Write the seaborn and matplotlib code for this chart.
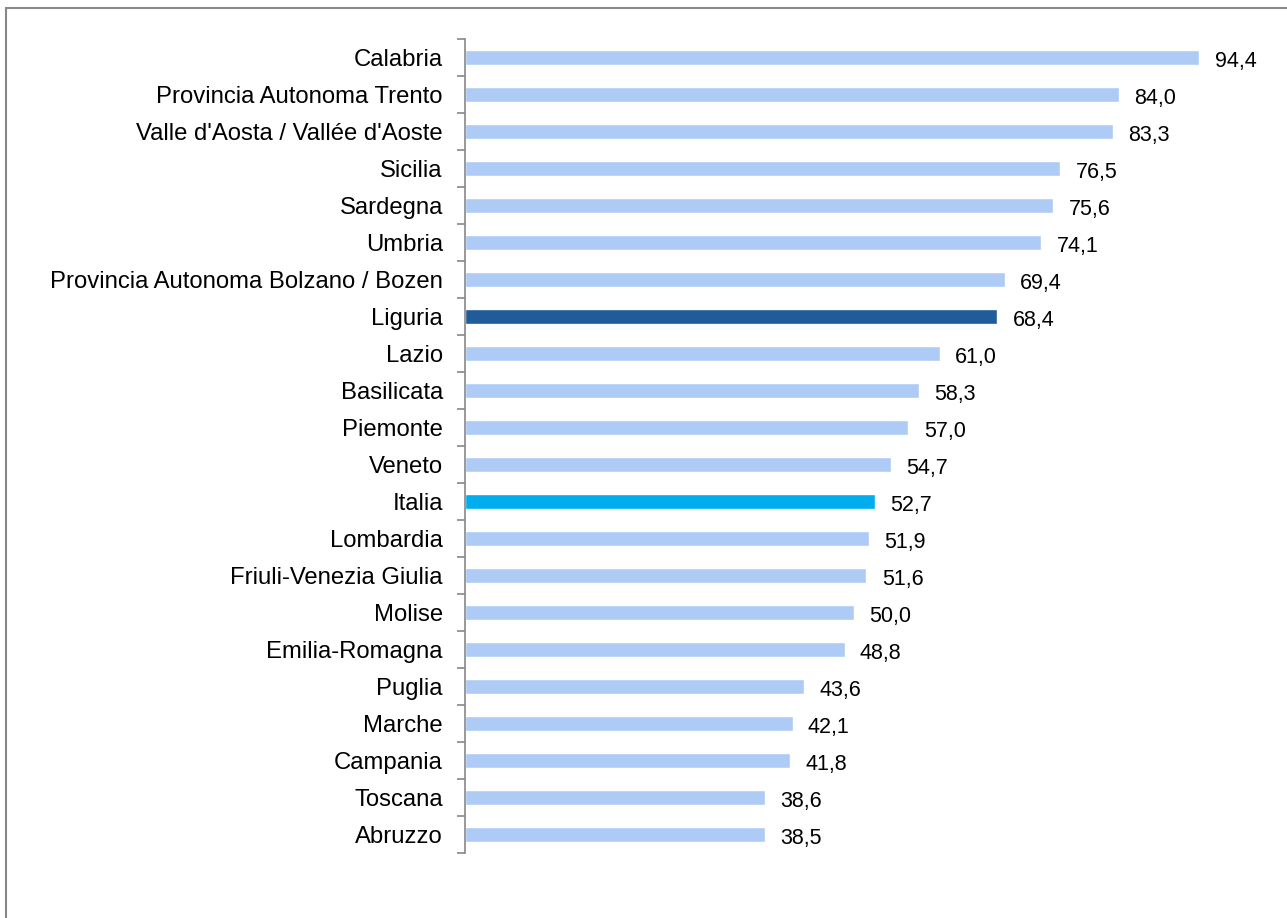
import pandas as pd
import matplotlib.pyplot as plt
import matplotlib.patches as mpatches
import seaborn as sns

regions = ['Calabria', 'Provincia Autonoma Trento', "Valle d'Aosta / Vallée d'Aoste",
           'Sicilia', 'Sardegna', 'Umbria', 'Provincia Autonoma Bolzano / Bozen',
           'Liguria', 'Lazio', 'Basilicata', 'Piemonte', 'Veneto', 'Italia',
           'Lombardia', 'Friuli-Venezia Giulia', 'Molise', 'Emilia-Romagna',
           'Puglia', 'Marche', 'Campania', 'Toscana', 'Abruzzo']
values = [94.4, 84.0, 83.3, 76.5, 75.6, 74.1, 69.4, 68.4, 61.0, 58.3, 57.0,
          54.7, 52.7, 51.9, 51.6, 50.0, 48.8, 43.6, 42.1, 41.8, 38.6, 38.5]

data = pd.DataFrame({'Regione': regions, 'Valore': values})
colors = {r: '#aecbf5' for r in regions}
colors['Liguria'] = '#1f5c99'
colors['Italia'] = '#00aeef'

sns.set_style('white')
plt.rcParams['font.family'] = ['Liberation Sans', 'DejaVu Sans']

fig = plt.figure(figsize=(12.87, 9.18), dpi=100)
ax = fig.add_axes([0.3613, 0.0708, 0.6045, 0.8867])

sns.barplot(x='Valore', y='Regione', data=data, hue='Regione', palette=colors,
            legend=False, width=0.4, saturation=1, ax=ax)

for p, v in zip(ax.patches, values):
    ax.annotate(f'{v:.1f}'.replace('.', ','),
                (p.get_width(), p.get_y() + p.get_height() / 2),
                xytext=(11, -3), textcoords='offset points',
                ha='left', va='center', fontsize=15.5, color='black')

ax.set_xlim(0, 100)
ax.set_ylim(len(regions) - 0.5, -0.5)
ax.set_xlabel('')
ax.set_ylabel('')
ax.set_xticks([])
ax.set_yticks(range(len(regions)))
ax.set_yticklabels(regions, fontsize=17.2, color='black')
ax.set_yticks([i - 0.5 for i in range(len(regions) + 1)], minor=True)
ax.tick_params(axis='y', which='major', length=0, pad=16)
ax.tick_params(axis='y', which='minor', length=6, width=1.2, color='#888888', left=True)
for s in ['top', 'right', 'bottom']:
    ax.spines[s].set_visible(False)
ax.spines['left'].set_color('#888888')
ax.spines['left'].set_linewidth(1.2)

frame = mpatches.Rectangle((6 / 1287, -0.1), 1.2, 1 - 8 / 918 + 0.1,
                           transform=fig.transFigure, fill=False,
                           edgecolor='#888888', linewidth=1.5)
fig.patches.append(frame)

fig.savefig('out.png', dpi=100)
